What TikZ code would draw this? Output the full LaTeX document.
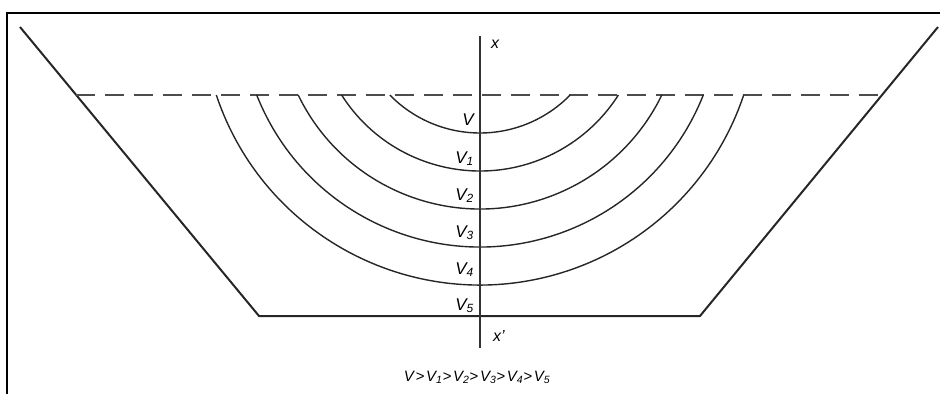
\documentclass[tikz,border=0pt]{standalone}
\usepackage{fontspec}
\setmainfont{Liberation Sans}
\usetikzlibrary{calc}
\newcommand{\vsub}[1]{V\textsubscript{#1}}
\begin{document}
\begin{tikzpicture}[
  x=1pt,y=-1pt,
  frame/.style={draw=black,line width=1.2pt},
  bank/.style={draw=black!85,line width=2pt},
  level/.style={draw=black!70,line width=2.2pt,dash pattern=on 19pt off 10pt},
  wave/.style={draw=black!85,line width=1.4pt},
  axis/.style={draw=black!80,line width=1.4pt},
  lab/.style={font=\fontsize{17}{19}\selectfont\itshape,inner sep=1pt,anchor=base east},
  note/.style={font=\fontsize{15}{17}\selectfont\itshape\addfontfeature{LetterSpace=12},inner sep=0pt,anchor=base}
]
\useasboundingbox (0,0) rectangle (940,394);
\draw[frame] (7,394) -- (7,13) -- (940,13);
\coordinate (tl) at (20,27);
\coordinate (bl) at (259,316);
\coordinate (br) at (700,316);
\coordinate (tr) at (938,27);
\draw[bank] (tl) -- (bl) -- (br) -- (tr);
\coordinate (wl) at ($(tl)!0.235!(bl)$);
\coordinate (wr) at ($(tr)!0.235!(br)$);
\draw[level] (wl) -- (wr);
\coordinate (c) at (480,7);
\foreach \r in {126,164,202,240,278} {
  \pgfmathsetmacro\a{asin(88/\r)}
  \draw[wave] (c) ++(180+\a:\r pt) arc[start angle=180+\a,end angle=360-\a,radius=\r pt];
}
\coordinate (atop) at (480,36);
\coordinate (abot) at (480,348);
\draw[axis] (atop) -- (abot);
\node[font=\fontsize{16}{18}\selectfont\itshape] (xtop) at (495,44) {x};
\node[font=\fontsize{16}{18}\selectfont\itshape] (xbot) at (499,336) {x'};
\node[lab] (v0) at (475,125) {V};
\node[lab] (v1) at (475,163) {\vsub{1}};
\node[lab] (v2) at (475,200) {\vsub{2}};
\node[lab] (v3) at (475,237) {\vsub{3}};
\node[lab] (v4) at (475,274) {\vsub{4}};
\node[lab] (v5) at (475,310) {\vsub{5}};
\node[note] (order) at (477,381) {V>\vsub{1}>\vsub{2}>\vsub{3}>\vsub{4}>\vsub{5}};
\end{tikzpicture}
\end{document}
